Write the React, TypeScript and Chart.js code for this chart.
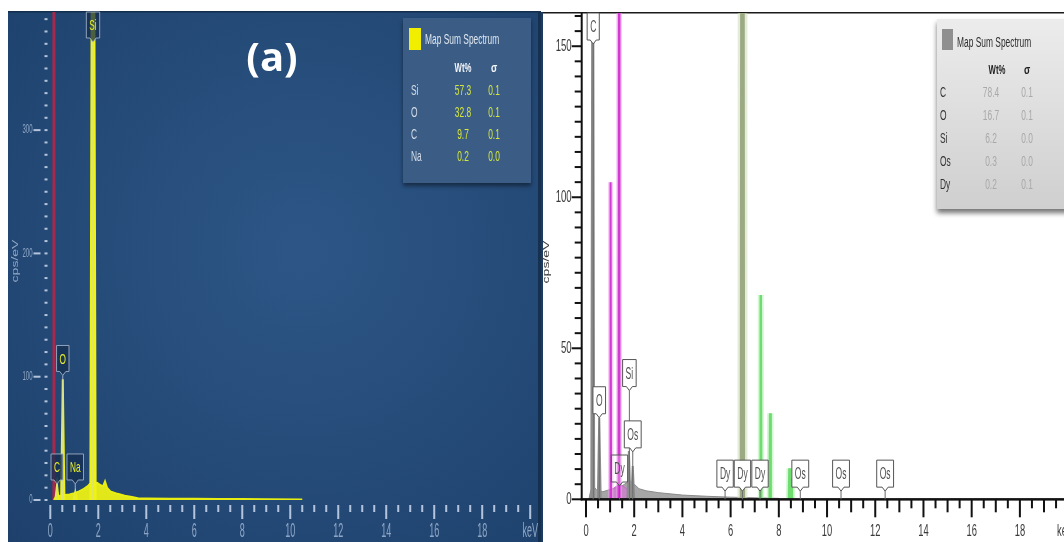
import React, { useEffect, useRef } from "react";
import { Chart, registerables } from "chart.js";

Chart.register(...registerables);

const FONT = '"Liberation Sans", "DejaVu Sans", sans-serif';

// ---------------- Panel (a): Map Sum Spectrum, dark theme ----------------
const contEnergyA = [0.15, 0.22, 0.3, 0.45, 0.6, 0.8, 1.0, 1.2, 1.4, 1.55, 1.65, 1.95, 2.1, 2.2, 2.28, 2.36, 2.5, 2.8, 3.1, 3.4, 3.65, 4.0, 5.0, 6.0, 7.0, 8.0, 9.0, 10.5];
const contCountsA = [0, 2, 3, 3.5, 4, 4.5, 5.5, 7, 9, 11, 13, 14, 12, 11, 15, 10, 7, 5, 3.5, 2.5, 1.5, 1.3, 1.1, 1.0, 0.9, 0.8, 0.6, 0.4];
const peakNamesA = ["C", "O", "Na", "Si"];
const peakEnergyA = [0.28, 0.52, 1.04, 1.78];
const peakCountsA = [12, 98, 6, 520];
const markerEnergyA = 0.15;
const tagNamesA = ["Si", "O", "C", "Na"];
const tagEnergyA = [1.78, 0.52, 0.28, 1.04];
const tagLevelA: (number | null)[] = [null, 101, 13, 13];
const xTickValuesA = [0, 2, 4, 6, 8, 10, 12, 14, 16, 18, 20];
const xTickLabelsA = ["0", "2", "4", "6", "8", "10", "12", "14", "16", "18", "keV"];
const yTickValuesA = [0, 100, 200, 300];
const tableElementsA = ["Si", "O", "C", "Na"];
const tableWtA = ["57.3", "32.8", "9.7", "0.2"];
const tableSigmaA = ["0.1", "0.1", "0.1", "0.0"];

// ---------------- Panel (b): Map Sum Spectrum, light theme ----------------
const contEnergyB = [0.12, 0.2, 0.35, 0.45, 0.7, 0.9, 1.1, 1.3, 1.5, 1.7, 1.85, 2.0, 2.2, 2.5, 3.0, 3.5, 4.0, 5.0, 6.0, 7.0, 8.0];
const contCountsB = [0, 3, 4, 3, 2.5, 3, 3.5, 4, 4.5, 5.5, 6, 5, 3.5, 2.8, 2.2, 1.8, 1.4, 1.0, 0.7, 0.5, 0.3];
const grayPeakEnergyB = [0.28, 0.55, 1.78, 1.94];
const grayPeakCountsB = [260, 27, 16, 11];
const magentaBaseEnergyB = [0.95, 1.05, 1.2, 1.4, 1.6, 1.75, 1.85];
const magentaBaseCountsB = [0, 3, 4, 5, 4, 3, 0];
const magentaPeakEnergyB = [1.02, 1.37];
const magentaPeakCountsB = [105, 260];
const olivePeakEnergyB = [6.49];
const olivePeakCountsB = [300];
const greenPeakEnergyB = [7.25, 7.64, 8.44, 8.53];
const greenPeakCountsB = [67.6, 28.5, 10.3, 7];
const tagNamesB = ["C", "O", "Si", "Os", "Dy", "Dy", "Dy", "Dy", "Os", "Os", "Os"];
const tagEnergyB = [0.3, 0.55, 1.8, 1.94, 1.39, 5.77, 6.49, 7.22, 8.89, 10.58, 12.41];
const tagLevelB: (number | null)[] = [null, 27, 36, 15.7, 4.4, 2.7, 2.7, 2.7, 2.7, 2.7, 2.7];
const xTickValuesB = [0, 2, 4, 6, 8, 10, 12, 14, 16, 18];
const yTickValuesB = [0, 50, 100, 150];
const tableElementsB = ["C", "O", "Si", "Os", "Dy"];
const tableWtB = ["78.4", "16.7", "6.2", "0.3", "0.2"];
const tableSigmaB = ["0.1", "0.1", "0.0", "0.0", "0.1"];

// Canvas placement on the page
const PANEL_A = { left: 8, top: 11, width: 533, height: 531 };
const PANEL_B = { left: 541, top: 12, width: 523, height: 530 };
const SEE_THROUGH_TAGS_B = new Set([4]);

function peakPoints(e: number, h: number, hw: number) {
  return [
    { x: e - hw, y: 0 },
    { x: e, y: h },
    { x: e + hw, y: 0 },
  ];
}

function squeezed(ctx: CanvasRenderingContext2D, text: string, x: number, y: number, size: number, color: string, align: CanvasTextAlign = "center", sx = 0.6, weight = "normal") {
  ctx.save();
  ctx.translate(x, y);
  ctx.scale(sx, 1);
  ctx.font = `${weight} ${size}px ${FONT}`;
  ctx.fillStyle = color;
  ctx.textAlign = align;
  ctx.textBaseline = "middle";
  ctx.fillText(text, 0, 0);
  ctx.restore();
}

function verticalText(ctx: CanvasRenderingContext2D, text: string, x: number, y: number, size: number, color: string, sy = 0.6) {
  ctx.save();
  ctx.translate(x, y);
  ctx.rotate(-Math.PI / 2);
  ctx.scale(1, sy);
  ctx.font = `${size}px ${FONT}`;
  ctx.fillStyle = color;
  ctx.textAlign = "center";
  ctx.textBaseline = "middle";
  ctx.fillText(text, 0, 0);
  ctx.restore();
}

type TagStyle = { fill: string; border: string; text: string; leader: string; size: number; sx: number; h: number };

// Element tag: a small box with a pointer at the bottom, hanging over the line energy
function drawTags(chart: any, names: string[], energies: number[], levels: (number | null)[], style: TagStyle, seeThrough?: Set<number>) {
  const { ctx, chartArea: a } = chart;
  const xs = chart.scales.x;
  const ys = chart.scales.y;
  const y0 = ys.getPixelForValue(0);
  const geo = names.map((name, i) => {
    const cx = xs.getPixelForValue(energies[i]);
    ctx.font = `${style.size}px ${FONT}`;
    const w = ctx.measureText(name).width * style.sx + 6;
    const lvl = levels[i];
    let tipY: number;
    let bottom: number;
    if (lvl === null) {
      bottom = a.top + style.h;
      tipY = bottom + 4;
    } else {
      tipY = ys.getPixelForValue(lvl);
      bottom = tipY - 4;
    }
    return { name, cx, w, tipY, bottom, top: bottom - style.h };
  });
  ctx.save();
  ctx.strokeStyle = style.leader;
  ctx.lineWidth = 1;
  geo.forEach((g) => {
    ctx.beginPath();
    ctx.moveTo(g.cx, g.tipY);
    ctx.lineTo(g.cx, y0);
    ctx.stroke();
  });
  geo.forEach((g, i) => {
    ctx.beginPath();
    ctx.moveTo(g.cx - g.w / 2, g.top);
    ctx.lineTo(g.cx + g.w / 2, g.top);
    ctx.lineTo(g.cx + g.w / 2, g.bottom);
    ctx.lineTo(g.cx + 3, g.bottom);
    ctx.lineTo(g.cx, g.tipY);
    ctx.lineTo(g.cx - 3, g.bottom);
    ctx.lineTo(g.cx - g.w / 2, g.bottom);
    ctx.closePath();
    ctx.globalAlpha = seeThrough && seeThrough.has(i) ? 0.25 : 1;
    ctx.fillStyle = style.fill;
    ctx.fill();
    ctx.globalAlpha = 1;
    ctx.strokeStyle = style.border;
    ctx.lineWidth = 1;
    ctx.stroke();
    squeezed(ctx, g.name, g.cx, (g.top + g.bottom) / 2 + 1, style.size, style.text, "center", style.sx);
  });
  ctx.restore();
}

const panelAPlugin = {
  id: "panelA",
  beforeDraw(chart: any) {
    const { ctx, width, height } = chart;
    ctx.save();
    const g = ctx.createRadialGradient(width * 0.55, height * 0.45, 10, width * 0.55, height * 0.45, width * 0.8);
    g.addColorStop(0, "#2d5686");
    g.addColorStop(1, "#1d406b");
    ctx.fillStyle = g;
    ctx.fillRect(0, 0, width, height);
    ctx.fillStyle = "#132d4c";
    ctx.fillRect(0, 0, width, 1.5);
    ctx.fillStyle = "#16304f";
    ctx.fillRect(width - 3, 0, 3, height);
    ctx.restore();
  },
  afterDatasetsDraw(chart: any) {
    const { ctx, chartArea: a } = chart;
    const x = chart.scales.x;
    const y = chart.scales.y;
    const y0 = y.getPixelForValue(0);
    const axisInk = "rgba(205,218,238,0.85)";
    const labelInk = "rgba(185,202,228,0.72)";
    ctx.save();
    // dotted y guide, one dot per 10 cps/eV
    ctx.fillStyle = axisInk;
    for (let v = 0; v <= y.max; v += 10) {
      const py = y.getPixelForValue(v);
      ctx.fillRect(a.left - 1, py - 1, 3, 2);
    }
    yTickValuesA.forEach((v) => {
      const py = y.getPixelForValue(v);
      ctx.fillStyle = axisInk;
      ctx.fillRect(a.left - 12, py - 1, 7, 2);
      squeezed(ctx, String(v), a.left - 13, py, 12, labelInk, "right", 0.5);
    });
    verticalText(ctx, "cps/eV", 8, 250, 14, labelInk, 0.6);
    // x ticks every 0.5 keV
    ctx.fillStyle = axisInk;
    for (let i = 0; i <= 40; i++) {
      const px = x.getPixelForValue(i * 0.5);
      ctx.fillRect(px - 1, y0 + 5, 2, i % 4 === 0 ? 14 : 7);
    }
    xTickValuesA.forEach((v, i) => {
      squeezed(ctx, xTickLabelsA[i], x.getPixelForValue(v), y0 + 31, 20, labelInk, "center", 0.45);
    });
    ctx.restore();

    drawTags(chart, tagNamesA, tagEnergyA, tagLevelA, {
      fill: "rgba(22,45,80,0.75)",
      border: "rgba(165,180,200,0.85)",
      text: "#e8ee2a",
      leader: "rgba(200,210,225,0.75)",
      size: 15,
      sx: 0.55,
      h: 26,
    });

    // results table
    ctx.save();
    const bx = 395, by = 7, bw = 128, bh = 165;
    ctx.shadowColor = "rgba(0,0,0,0.45)";
    ctx.shadowBlur = 4;
    ctx.shadowOffsetY = 3;
    ctx.fillStyle = "#3b5d85";
    ctx.fillRect(bx, by, bw, bh);
    ctx.restore();
    ctx.save();
    ctx.fillStyle = "#f2ee00";
    ctx.fillRect(bx + 6, by + 10, 12, 22);
    squeezed(ctx, "Map Sum Spectrum", bx + 22, by + 22, 14, "#dde5ef", "left", 0.6);
    squeezed(ctx, "Wt%", bx + 60, by + 50, 13, "#f4f6fa", "center", 0.6, "bold");
    squeezed(ctx, "\u03c3", bx + 91, by + 50, 13, "#f4f6fa", "center", 0.7, "bold");
    tableElementsA.forEach((el, i) => {
      const ry = by + 73 + i * 22;
      squeezed(ctx, el, bx + 8, ry, 14, "#d3dce8", "left", 0.6);
      squeezed(ctx, tableWtA[i], bx + 60, ry, 14, "#d5e53e", "center", 0.6);
      squeezed(ctx, tableSigmaA[i], bx + 91, ry, 14, "#d5e53e", "center", 0.6);
    });
    ctx.font = `bold 40px "Open Sans", "DejaVu Sans", sans-serif`;
    ctx.fillStyle = "#ffffff";
    ctx.textAlign = "center";
    ctx.textBaseline = "middle";
    ctx.fillText("(a)", 264, 49);
    ctx.restore();
  },
};

const panelBPlugin = {
  id: "panelB",
  beforeDraw(chart: any) {
    const { ctx, width, height } = chart;
    ctx.save();
    ctx.fillStyle = "#ffffff";
    ctx.fillRect(0, 0, width, height);
    ctx.fillStyle = "#1a1a1a";
    ctx.fillRect(0, 0, width, 1.5);
    ctx.fillStyle = "#1d3a63";
    ctx.fillRect(0, 0, 2, height);
    ctx.restore();
  },
  afterDatasetsDraw(chart: any) {
    const { ctx, width, chartArea: a } = chart;
    const x = chart.scales.x;
    const y = chart.scales.y;
    const y0 = y.getPixelForValue(0);
    const ink = "#3a3a3a";
    ctx.save();
    ctx.fillStyle = "#111111";
    ctx.fillRect(a.left - 1, a.top, 2, y0 - a.top + 1);
    ctx.fillRect(a.left - 1, y0 - 1.2, width - a.left + 1, 2.5);
    for (let v = 0; v <= y.max; v += 5) {
      const py = y.getPixelForValue(v);
      const major = v % 50 === 0;
      ctx.fillRect(a.left - (major ? 10 : 7), py - 1, major ? 10 : 7, 2);
    }
    yTickValuesB.forEach((v) => squeezed(ctx, String(v), a.left - 10, y.getPixelForValue(v), 16, ink, "right", 0.6));
    verticalText(ctx, "cps/eV", 6, 250, 14, ink, 0.6);
    for (let i = 0; i * 0.5 <= x.max; i++) {
      const px = x.getPixelForValue(i * 0.5);
      const len = i % 4 === 0 ? 18 : i % 2 === 0 ? 13 : 9;
      ctx.fillRect(px - 1, y0, 2, len);
    }
    xTickValuesB.forEach((v) => squeezed(ctx, String(v), x.getPixelForValue(v), y0 + 32, 17, ink, "center", 0.55));
    squeezed(ctx, "keV", 516, y0 + 32, 17, ink, "left", 0.55);
    ctx.restore();

    drawTags(chart, tagNamesB, tagEnergyB, tagLevelB, {
      fill: "#ffffff",
      border: "#555555",
      text: "#505050",
      leader: "#6a6a6a",
      size: 17,
      sx: 0.5,
      h: 27,
    }, SEE_THROUGH_TAGS_B);

    // results table
    ctx.save();
    const bx = 396, by = 7, bw = 135, bh = 190;
    ctx.shadowColor = "rgba(0,0,0,0.55)";
    ctx.shadowBlur = 5;
    ctx.shadowOffsetY = 4;
    const g = ctx.createLinearGradient(0, by, 0, by + bh);
    g.addColorStop(0, "#ececec");
    g.addColorStop(1, "#cfcfcf");
    ctx.fillStyle = g;
    ctx.fillRect(bx, by, bw, bh);
    ctx.restore();
    ctx.save();
    ctx.fillStyle = "#8f8f8f";
    ctx.fillRect(bx + 5, by + 10, 11, 21);
    squeezed(ctx, "Map Sum Spectrum", bx + 20, by + 24, 14, "#2e2e2e", "left", 0.6);
    squeezed(ctx, "Wt%", bx + 60, by + 51, 13, "#1e1e1e", "center", 0.6, "bold");
    squeezed(ctx, "\u03c3", bx + 90, by + 51, 13, "#1e1e1e", "center", 0.7, "bold");
    tableElementsB.forEach((el, i) => {
      const ry = by + 74 + i * 23;
      squeezed(ctx, el, bx + 3, ry, 14, "#333333", "left", 0.6);
      squeezed(ctx, tableWtB[i], bx + 54, ry, 14, "#a9a9a9", "center", 0.6);
      squeezed(ctx, tableSigmaB[i], bx + 90, ry, 14, "#a9a9a9", "center", 0.6);
    });
    ctx.restore();
  },
};

function lineSet(points: { x: number; y: number }[], stroke: string, fillColor: string | null, width: number, order: number) {
  return {
    data: points,
    borderColor: stroke,
    backgroundColor: fillColor || stroke,
    borderWidth: width,
    fill: fillColor ? "origin" : false,
    pointRadius: 0,
    tension: 0,
    order,
  };
}

function buildConfigA(): any {
  const datasets: any[] = [];
  datasets.push(lineSet(contEnergyA.map((e, i) => ({ x: e, y: contCountsA[i] })), "#e9ee12", "rgba(236,240,20,0.95)", 2, 5));
  peakEnergyA.forEach((e, i) => {
    datasets.push(lineSet(peakPoints(e, peakCountsA[i], 0.07), "#eef215", "#eef215", peakNamesA[i] === "Si" ? 4 : 2, 2));
  });
  datasets.push(lineSet([{ x: markerEnergyA, y: 0 }, { x: markerEnergyA, y: 1000 }], "rgba(178,38,72,0.9)", null, 3, 10));
  return {
    type: "line",
    data: { datasets },
    options: {
      animation: false,
      responsive: false,
      devicePixelRatio: 1,
      layout: { padding: { left: 37.5, top: 1, right: 0, bottom: 42 } },
      scales: {
        x: { type: "linear", min: -0.2, max: 20.45, display: false },
        y: { type: "linear", min: 0, max: 395.8, display: false },
      },
      plugins: { legend: { display: false }, tooltip: { enabled: false } },
    },
    plugins: [panelAPlugin],
  };
}

function buildConfigB(): any {
  const datasets: any[] = [];
  datasets.push(lineSet(contEnergyB.map((e, i) => ({ x: e, y: contCountsB[i] })), "#8a8a8a", "rgba(150,150,150,0.85)", 1, 6));
  datasets.push(lineSet(magentaBaseEnergyB.map((e, i) => ({ x: e, y: magentaBaseCountsB[i] })), "rgba(214,80,214,0.8)", "rgba(222,110,222,0.55)", 1, 5));
  grayPeakEnergyB.forEach((e, i) => {
    datasets.push(lineSet(peakPoints(e, grayPeakCountsB[i], 0.06), "#8c8c8c", "#9c9c9c", 2, 4));
  });
  magentaPeakEnergyB.forEach((e, i) => {
    datasets.push(lineSet(peakPoints(e, magentaPeakCountsB[i], 0.02), "rgba(236,160,236,0.55)", null, 5, 3));
    datasets.push(lineSet(peakPoints(e, magentaPeakCountsB[i], 0.02), "#d23ad2", null, 2, 2));
  });
  olivePeakEnergyB.forEach((e, i) => {
    datasets.push(lineSet(peakPoints(e, olivePeakCountsB[i], 0.02), "rgba(210,222,190,0.6)", null, 9, 3));
    datasets.push(lineSet(peakPoints(e, olivePeakCountsB[i], 0.03), "#9caa84", null, 4, 1));
  });
  greenPeakEnergyB.forEach((e, i) => {
    datasets.push(lineSet(peakPoints(e, greenPeakCountsB[i], 0.02), "rgba(170,240,170,0.5)", null, 6, 3));
    datasets.push(lineSet(peakPoints(e, greenPeakCountsB[i], 0.02), "#6fdc6f", null, 2.5, 1));
  });
  return {
    type: "line",
    data: { datasets },
    options: {
      animation: false,
      responsive: false,
      devicePixelRatio: 1,
      layout: { padding: { left: 40.7, top: 1, right: 0, bottom: 42.7 } },
      scales: {
        x: { type: "linear", min: -0.178, max: 19.83, display: false },
        y: { type: "linear", min: 0, max: 161, display: false },
      },
      plugins: { legend: { display: false }, tooltip: { enabled: false } },
    },
    plugins: [panelBPlugin],
  };
}

function SpectrumPanel({ box, build }: { box: { left: number; top: number; width: number; height: number }; build: () => any }) {
  const ref = useRef<HTMLCanvasElement>(null);
  useEffect(() => {
    const chart = new Chart(ref.current as HTMLCanvasElement, build());
    return () => chart.destroy();
  }, [build]);
  return (
    <canvas
      ref={ref}
      width={box.width}
      height={box.height}
      style={{ position: "absolute", left: box.left, top: box.top, width: box.width, height: box.height, display: "block" }}
    />
  );
}

export default function App() {
  return (
    <div style={{ position: "fixed", left: 0, top: 0, width: 1064, height: 542, background: "#ffffff", overflow: "hidden" }}>
      <SpectrumPanel box={PANEL_A} build={buildConfigA} />
      <SpectrumPanel box={PANEL_B} build={buildConfigB} />
    </div>
  );
}
